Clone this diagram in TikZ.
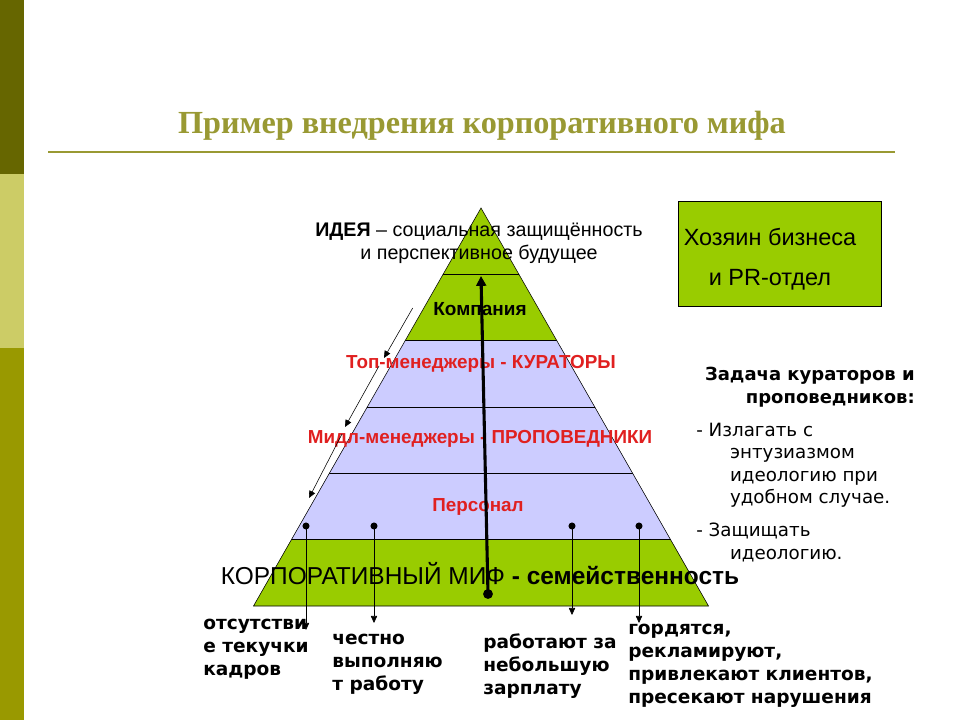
\documentclass[tikz,border=0pt]{standalone}
\usepackage{fontspec}
\setmainfont{Liberation Sans}
\newfontfamily\titlefont{Liberation Serif}
\newfontfamily\verdfont{DejaVu Sans}
\usetikzlibrary{arrows.meta}

\definecolor{barDark}{HTML}{666600}
\definecolor{barLight}{HTML}{CCCC66}
\definecolor{barMid}{HTML}{999900}
\definecolor{titleOlive}{HTML}{999933}
\definecolor{leafGreen}{HTML}{99CC00}
\definecolor{layerLilac}{HTML}{CCCCFF}
\definecolor{layerRed}{HTML}{E02020}

\tikzset{
  layerlabel/.style={font=\bfseries\fontsize{13.4}{16}\selectfont, text=layerRed},
  outcome/.style={font=\verdfont\bfseries\fontsize{13.2}{16.2}\selectfont, align=left, anchor=north west, inner sep=0pt},
  tasktext/.style={font=\verdfont\fontsize{13}{15.9}\selectfont, align=left, anchor=north west, inner sep=0pt},
  drop/.style={-{Triangle[length=5pt,width=4.5pt]}},
  stud/.style={circle, fill=black, inner sep=0pt, minimum size=5pt}
}

\begin{document}
\begin{tikzpicture}[x=0.025cm,y=-0.025cm]
\useasboundingbox (0,0) rectangle (960,720);

% side bar
\fill[barDark] (0,0) rectangle (24,174);
\fill[barLight] (0,174) rectangle (24,348);
\fill[barMid] (0,348) rectangle (24,720);

% title
\node[font=\titlefont\bfseries\fontsize{22.9}{27}\selectfont, text=titleOlive] (title) at (482,126) {Пример внедрения корпоративного мифа};
\draw[titleOlive, line width=1.4pt] (48,152) -- (895,152);

% pyramid
\coordinate (apex) at (481,208);
\coordinate (baseL) at (253.5,606);
\coordinate (baseR) at (708.5,606);
\begin{scope}
\clip (apex) -- (baseL) -- (baseR) -- cycle;
\fill[leafGreen] (250,200) rectangle (712,340.7);
\fill[layerLilac] (250,340.7) rectangle (712,539.7);
\fill[leafGreen] (250,539.7) rectangle (712,610);
\foreach \y in {274.3,340.7,407,473.3,539.7}
  \draw[thin] (250,\y) -- (712,\y);
\end{scope}
\draw[thin] (apex) -- (baseL) -- (baseR) -- cycle;

% layer texts
\node[font=\fontsize{14}{16.5}\selectfont, align=center] (idea) at (479,243) {\textbf{ИДЕЯ} – социальная защищённость\\и перспективное будущее};
\node[font=\bfseries\fontsize{13.5}{15}\selectfont] (company) at (480,309) {Компания};
\node[layerlabel] (curators) at (481,364) {Топ-менеджеры - КУРАТОРЫ};
\node[layerlabel] (preachers) at (480,439) {Мидл-менеджеры - ПРОПОВЕДНИКИ};
\node[layerlabel] (staff) at (478,507) {Персонал};
\node[font=\fontsize{17.4}{20}\selectfont] (myth) at (480,574) {КОРПОРАТИВНЫЙ МИФ \textbf{- семейственность}};

% myth rises to the idea
\node[stud, minimum size=7pt] (mythdot) at (488,594) {};
\coordinate (ideatip) at (481,276);
\draw[line width=2.2pt, -{Triangle[length=7pt,width=7pt]}] (mythdot.center) -- (ideatip);

% passing down the levels
\coordinate (d1s) at (412.7,308);  \coordinate (d1e) at (384,358);
\coordinate (d2s) at (379,366);    \coordinate (d2e) at (345,427);
\coordinate (d3s) at (342,434);    \coordinate (d3e) at (309,498);
\draw[drop] (d1s) -- (d1e);
\draw[drop] (d2s) -- (d2e);
\draw[drop] (d3s) -- (d3e);

% staff outcomes
\foreach \x/\tip in {306/630, 374/623, 572/615, 639/623} {
  \node[stud] (s\x) at (\x,526) {};
  \coordinate (t\x) at (\x,\tip);
  \draw[drop] (s\x.center) -- (t\x);
}
\node[outcome] (noturnover) at (203,619) {отсутстви\\е текучки\\кадров};
\node[outcome] (honest) at (332,634) {честно\\выполняю\\т работу};
\node[outcome] (lowpay) at (483,634) {работают за\\небольшую\\зарплату};
\node[outcome] (proud) at (628,624) {гордятся,\\рекламируют,\\привлекают клиентов,\\пресекают нарушения};

% owner box
\node[draw, fill=leafGreen, minimum width=5.075cm, minimum height=2.625cm, inner sep=0pt] (owner) at (779.5,253.5) {};
\node[font=\fontsize{16.7}{19}\selectfont] (ownername) at (770,237) {Хозяин бизнеса};
\node[font=\fontsize{16.7}{19}\selectfont] (prdept) at (770,280) {и PR-отдел};

% task of curators and preachers
\node[font=\verdfont\bfseries\fontsize{12.8}{16}\selectfont, align=right, anchor=north east, inner sep=0pt] (task) at (915,367) {Задача кураторов и\\проповедников:};
\node[tasktext] (task1) at (696,423) {- Излагать с\\\hspace*{24pt}энтузиазмом\\\hspace*{24pt}идеологию при\\\hspace*{24pt}удобном случае.};
\node[tasktext] (task2) at (696,523) {- Защищать\\\hspace*{24pt}идеологию.};
\end{tikzpicture}
\end{document}
